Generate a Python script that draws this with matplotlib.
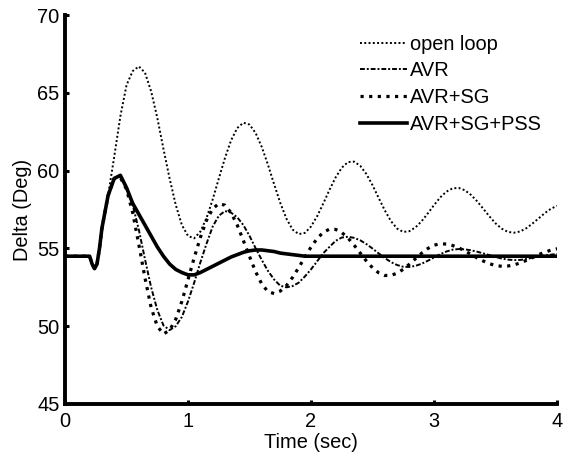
import numpy as np
import matplotlib.pyplot as plt

plt.rcParams['font.family'] = ['Liberation Sans', 'DejaVu Sans']
plt.rcParams['font.size'] = 14.4

# time axis (sec): pre-fault points, then 0.05 s samples from 0.30 to 4.00
t_start = [0.0, 0.2, 0.22, 0.24, 0.26, 0.28]
t_main = np.linspace(0.30, 4.00, 75)
time = np.concatenate([t_start, t_main])

# rotor angle common to all cases before the swing starts
delta_start = [54.5, 54.5, 54.0, 53.7, 54.0, 55.0]

open_loop = [
    56.3, 58.4, 60.9, 63.5, 65.5, 66.4, 66.7, 66.3, 65.1, 63.4,
    61.4, 59.5, 57.8, 56.5, 55.8, 55.65, 56.08, 56.95, 58.14, 59.49,
    60.81, 61.95, 62.74, 63.08, 62.96, 62.41, 61.51, 60.37, 59.12, 57.92,
    56.91, 56.21, 55.92, 56.0, 56.41, 57.08, 57.9, 58.77, 59.57, 60.19,
    60.55, 60.58, 60.31, 59.78, 59.06, 58.24, 57.44, 56.75, 56.27, 56.06,
    56.11, 56.36, 56.76, 57.26, 57.79, 58.28, 58.65, 58.86, 58.89, 58.74,
    58.44, 58.03, 57.55, 57.06, 56.61, 56.27, 56.06, 56.01, 56.09, 56.30,
    56.60, 56.93, 57.27, 57.55, 57.74,
]

avr = [
    56.3, 58.4, 59.5, 59.6, 59.0, 57.8, 56.2, 54.3, 52.5, 51.05,
    50.05, 49.75, 50.0, 50.6, 51.6, 52.8, 54.1, 55.3, 56.4, 57.1,
    57.4, 57.3, 57.0, 56.5, 55.8, 55.0, 54.25, 53.55, 53.0, 52.6,
    52.5, 52.58, 52.8, 53.2, 53.66, 54.18, 54.7, 55.1, 55.49, 55.7,
    55.75, 55.68, 55.52, 55.28, 54.99, 54.68, 54.38, 54.12, 53.93, 53.82,
    53.81, 53.88, 54.02, 54.21, 54.42, 54.63, 54.8, 54.92, 54.96, 54.94,
    54.88, 54.79, 54.68, 54.57, 54.45, 54.35, 54.28, 54.25, 54.26, 54.32,
    54.4, 54.48, 54.55, 54.6, 54.65,
]

avr_sg = [
    56.3, 58.4, 59.5, 59.55, 58.8, 57.3, 55.25, 53.1, 51.2, 50.0,
    49.5, 49.74, 50.44, 51.6, 53.0, 54.4, 55.7, 56.8, 57.55, 57.88,
    57.78, 57.29, 56.5, 55.5, 54.48, 53.49, 52.7, 52.22, 52.1, 52.26,
    52.61, 53.14, 53.77, 54.45, 55.09, 55.64, 56.04, 56.24, 56.22, 56.02,
    55.67, 55.21, 54.70, 54.19, 53.75, 53.43, 53.26, 53.27, 53.41, 53.66,
    53.99, 54.35, 54.7, 55.0, 55.21, 55.3, 55.28, 55.19, 55.04, 54.84,
    54.62, 54.39, 54.19, 54.02, 53.9, 53.85, 53.87, 53.94, 54.07, 54.23,
    54.41, 54.6, 54.76, 54.89, 54.98,
]

avr_sg_pss = [
    56.3, 58.4, 59.5, 59.7, 58.9, 57.9, 57.2, 56.5, 55.8, 55.1,
    54.5, 54.0, 53.65, 53.45, 53.3, 53.3, 53.45, 53.65, 53.85, 54.05,
    54.25, 54.45, 54.6, 54.75, 54.85, 54.9, 54.9, 54.85, 54.8, 54.7,
    54.65, 54.6, 54.55, 54.5,
] + [54.5] * 41

fig = plt.figure(figsize=(5.63, 4.57), dpi=100)
ax = fig.add_axes([0.1155, 0.116, 0.874, 0.851])

ax.plot(time, delta_start + open_loop, color='black', lw=1.4,
        linestyle=(0, (1, 1.2)), label='open loop')
ax.plot(time, delta_start + avr, color='black', lw=1.4,
        linestyle=(0, (2.5, 1, 1, 1)), label='AVR')
ax.plot(time, delta_start + avr_sg, color='black', lw=2.3,
        linestyle=(0, (1, 1.7)), label='AVR+SG')
ax.plot(time, delta_start + avr_sg_pss, color='black', lw=2.6,
        label='AVR+SG+PSS')

ax.set_xlim(0, 4)
ax.set_ylim(45, 70)
ax.set_xticks([0, 1, 2, 3, 4])
ax.set_yticks([45, 50, 55, 60, 65, 70])
ax.set_xlabel('Time (sec)', labelpad=1)
ax.set_ylabel('Delta (Deg)', labelpad=4)

for side in ['top', 'right']:
    ax.spines[side].set_visible(False)
for side in ['left', 'bottom']:
    ax.spines[side].set_linewidth(2.8)
ax.tick_params(direction='in', length=3, width=2.2, pad=4)
ax.tick_params(axis='x', pad=6)

ax.legend(loc='upper left', bbox_to_anchor=(0.6, 0.95), frameon=False,
          handlelength=2.35, handletextpad=0.15, labelspacing=0.39,
          borderpad=0, borderaxespad=0)

fig.savefig('out.png', dpi=100)
